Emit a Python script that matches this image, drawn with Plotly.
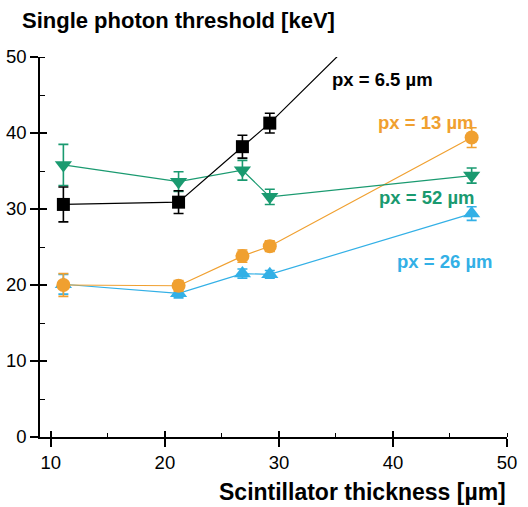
import plotly.graph_objects as go

# Data
thickness = [11.1, 21.2, 26.8, 29.2, 46.9]

px65_y = [30.6, 30.9, 38.2, 41.3, 67.5]
px65_err = [2.3, 1.5, 1.5, 1.3, 0]

px13_y = [20.0, 19.9, 23.8, 25.1, 39.4]
px13_err = [1.5, 0.7, 0.8, 0.7, 1.3]

px52_y = [35.8, 33.6, 35.1, 31.6, 34.4]
px52_err = [2.7, 1.3, 1.3, 1.0, 1.0]

px26_y = [20.1, 18.9, 21.5, 21.4, 29.4]
px26_err = [1.3, 0.6, 0.6, 0.5, 0.9]

series_labels = ["px = 6.5 µm", "px = 13 µm", "px = 52 µm", "px = 26 µm"]
x_ticks = [10, 20, 30, 40, 50]
y_ticks = [0, 10, 20, 30, 40, 50]

BLACK = "#000000"
ORANGE = "#F0A030"
GREEN = "#1A9A70"
BLUE = "#33B0E6"
FONT = "Liberation Sans, Arial, sans-serif"

fig = go.Figure()

def add_series(y, err, color, symbol, size):
    fig.add_trace(go.Scatter(
        x=thickness, y=y, mode="lines+markers",
        line=dict(color=color, width=1.2),
        marker=dict(color=color, symbol=symbol, size=size),
        error_y=dict(type="data", array=err, color=color, thickness=1.6, width=5),
        showlegend=False,
    ))

add_series(px26_y, px26_err, BLUE, "triangle-up", 15)
add_series(px13_y, px13_err, ORANGE, "circle", 14)
add_series(px52_y, px52_err, GREEN, "triangle-down", 15)
add_series(px65_y, px65_err, BLACK, "square", 13)

# inline labels
label_pos = [(34.5, 47.1, BLACK), (38.5, 41.4, ORANGE), (38.6, 31.5, GREEN), (40.15, 23.1, BLUE)]
for text, (lx, ly, c) in zip(series_labels, label_pos):
    fig.add_annotation(x=lx, y=ly, text="<b>%s</b>" % text, showarrow=False,
                       xanchor="left", yanchor="middle",
                       font=dict(family=FONT, size=18.5, color=c))

fig.add_annotation(xref="paper", yref="paper", x=-0.0428, y=1.097,
                   text="<b>Single photon threshold [keV]</b>", showarrow=False,
                   xanchor="left", yanchor="middle",
                   font=dict(family=FONT, size=22, color=BLACK))
fig.add_annotation(xref="paper", yref="paper", x=1.002, y=-0.145,
                   text="<b>Scintillator thickness [µm]</b>", showarrow=False,
                   xanchor="right", yanchor="middle",
                   font=dict(family=FONT, size=23, color=BLACK))

xr = [9.05, 50]
yr = [0, 50]

fig.update_layout(
    width=528, height=507,
    margin=dict(l=40, r=21, t=57, b=70),
    paper_bgcolor="white", plot_bgcolor="white",
    font=dict(family=FONT, size=18, color=BLACK),
    xaxis=dict(range=xr, tickvals=x_ticks, ticks="outside", ticklen=8, tickwidth=1.5,
               tickcolor=BLACK, showline=True, linecolor=BLACK, linewidth=1.5,
               showgrid=False, zeroline=False, tickfont=dict(size=18.5), automargin=False,
               minor=dict(ticks="inside", ticklen=4, dtick=5, tick0=0, tickcolor=BLACK,
                          tickwidth=1.2, showgrid=False)),
    yaxis=dict(range=yr, tickvals=y_ticks, ticks="outside", ticklen=8, tickwidth=1.5,
               tickcolor=BLACK, showline=True, linecolor=BLACK, linewidth=1.5,
               showgrid=False, zeroline=False, tickfont=dict(size=18.5), automargin=False,
               minor=dict(ticks="inside", ticklen=5, dtick=5, tick0=0, tickcolor=BLACK,
                          tickwidth=1.2, showgrid=False)),
    xaxis2=dict(range=xr, overlaying="x", side="bottom", tickvals=x_ticks, ticks="inside",
                ticklen=6, tickwidth=1.5, tickcolor=BLACK, showticklabels=False,
                automargin=False,
                showgrid=False, zeroline=False, showline=False, anchor="y"),
    yaxis2=dict(range=yr, overlaying="y", side="left", tickvals=y_ticks, ticks="inside",
                ticklen=7, tickwidth=1.5, tickcolor=BLACK, showticklabels=False,
                automargin=False,
                showgrid=False, zeroline=False, showline=False, anchor="x"),
)
# dummy trace to activate overlay axes
fig.add_trace(go.Scatter(x=[None], y=[None], xaxis="x2", yaxis="y2", showlegend=False,
                         hoverinfo="skip"))

fig.write_html("out.html")
